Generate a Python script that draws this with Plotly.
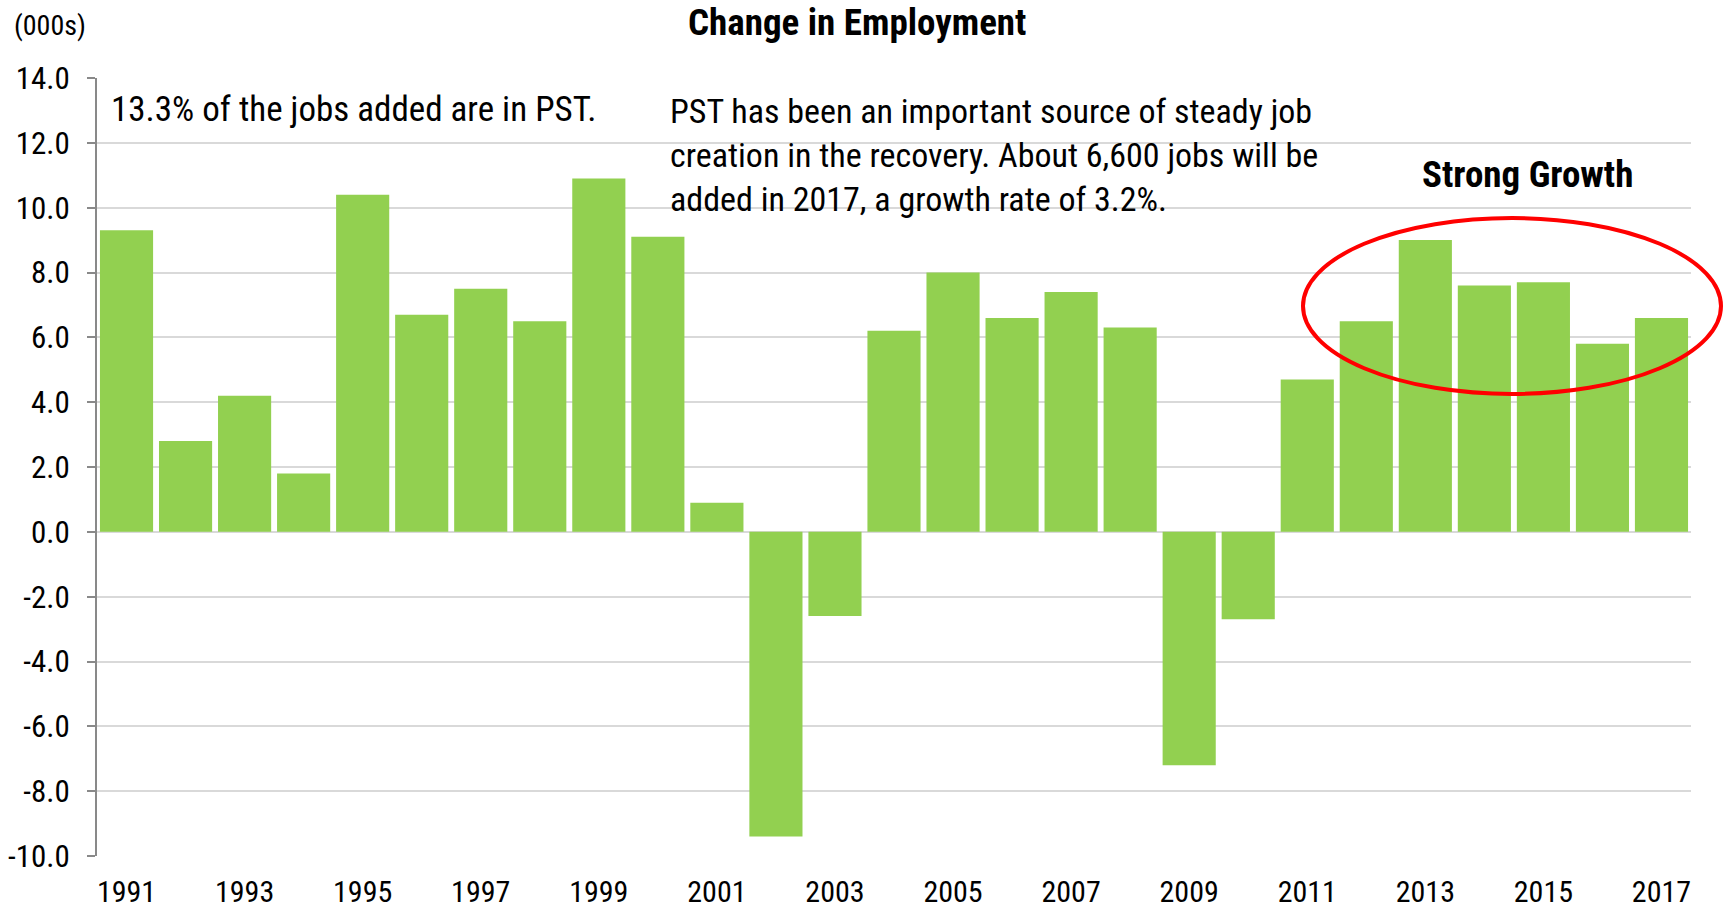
import plotly.graph_objects as go

years = list(range(1991, 2018))
change = [9.3, 2.8, 4.2, 1.8, 10.4, 6.7, 7.5, 6.5, 10.9, 9.1, 0.9, -9.4, -2.6,
          6.2, 8.0, 6.6, 7.4, 6.3, -7.2, -2.7, 4.7, 6.5, 9.0, 7.6, 7.7, 5.8, 6.6]
label_years = list(range(1991, 2018, 2))
y_ticks = list(range(-10, 15, 2))
y_min, y_max = -10, 14

FONT = "Liberation Sans Narrow, Arial Narrow, Roboto Condensed, Liberation Sans, sans-serif"
GREEN = "#92d050"
GRAY = "#898989"

# body margin removed by post_script, so figure fills the window exactly
W, H = 1727, 911
L, T = 97, 78
PW, PH = 1594, 778
R, B = W - L - PW, H - T - PH


def px(xp):
    """window pixel x -> paper x"""
    return (xp - L) / PW


def py(yp):
    """window pixel y -> paper y"""
    return (T + PH - yp) / PH


fig = go.Figure()
fig.add_trace(go.Bar(x=years, y=change, marker=dict(color=GREEN, line=dict(width=0)),
                     showlegend=False, hoverinfo="x+y"))

x_range = [years[0] - 0.5, years[-1] + 0.5]
boundaries = [y + 0.5 for y in years]

fig.update_layout(
    width=W, height=H,
    margin=dict(l=L, r=R, t=T, b=B, autoexpand=False),
    paper_bgcolor="white", plot_bgcolor="white",
    font=dict(family=FONT, size=31, color="black"),
    bargap=0.1,
    xaxis=dict(range=x_range, tickmode="array", tickvals=label_years,
               ticktext=[str(v) for v in label_years], showgrid=False, showline=False,
               ticks="", zeroline=False, ticklabelstandoff=15, automargin=False,
               tickfont=dict(size=30)),
    xaxis2=dict(range=x_range, overlaying="x", anchor="free",
                position=(0 - y_min) / (y_max - y_min), side="bottom",
                tickmode="array", tickvals=boundaries, showticklabels=False,
                ticks="outside", ticklen=9, tickwidth=1.5, tickcolor=GRAY,
                showline=True, linecolor=GRAY, linewidth=2, showgrid=False,
                zeroline=False, layer="above traces", automargin=False),
    yaxis=dict(range=[y_min, y_max], tickmode="array", tickvals=y_ticks,
               ticktext=[f"{v:.1f}" for v in y_ticks],
               showgrid=True, gridcolor="#d9d9d9", gridwidth=2,
               zeroline=False, showline=True, linecolor=GRAY, linewidth=2,
               ticks="outside", ticklen=8, tickcolor=GRAY, tickwidth=1.5,
               ticklabelstandoff=11, automargin=False),
)

# ellipse highlight (paper coordinates so it can extend beyond plot area)
fig.add_shape(type="circle", xref="paper", yref="paper",
              x0=px(1303), x1=px(1721), y0=py(394), y1=py(218),
              line=dict(color="#ff0000", width=4), layer="above")

fig.add_annotation(text="<b>Change in Employment</b>", xref="paper", yref="paper",
                   x=px(857), y=py(23), xanchor="center", yanchor="middle",
                   showarrow=False, font=dict(size=37), borderpad=0)
fig.add_annotation(text="(000s)", xref="paper", yref="paper", x=px(13), y=py(25),
                   xanchor="left", yanchor="middle", showarrow=False, font=dict(size=28),
                   borderpad=0)
fig.add_annotation(text="13.3% of the jobs added are in PST.", xref="paper", yref="paper",
                   x=px(109), y=py(110), xanchor="left", yanchor="middle", showarrow=False,
                   font=dict(size=35))
fig.add_annotation(text="PST has been an important source of steady job<br>"
                        "creation in the recovery. About 6,600 jobs will be<br>"
                        "added in 2017, a growth rate of 3.2%.",
                   xref="paper", yref="paper", x=px(668), y=py(155), xanchor="left",
                   yanchor="middle", align="left", showarrow=False, font=dict(size=34))
fig.add_annotation(text="<b>Strong Growth</b>", xref="paper", yref="paper",
                   x=px(1527), y=py(174), xanchor="center", yanchor="middle",
                   showarrow=False, font=dict(size=37))

fig.write_html("out.html", config={"displayModeBar": False},
               post_script="document.body.style.margin='0';document.body.style.overflow='hidden';")
